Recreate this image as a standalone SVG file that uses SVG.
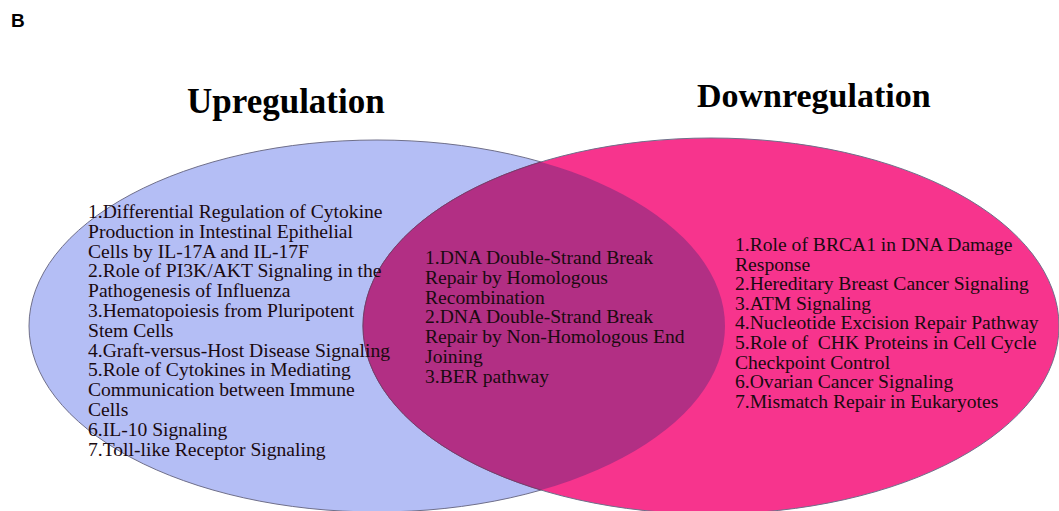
<svg xmlns="http://www.w3.org/2000/svg" width="1059" height="511" viewBox="0 0 1059 511">
<style>
.t{font-family:"Liberation Serif","Times New Roman",serif;font-size:19.6px;fill:#1a0a10}
.h{font-family:"Liberation Serif","Times New Roman",serif;font-weight:bold;fill:#000}
.set{stroke:#6f6f8a;stroke-width:1}
</style>
<defs>
<clipPath id="clipL"><ellipse cx="377" cy="326" rx="348" ry="186"/></clipPath>
</defs>
<rect width="1059" height="511" fill="#fff"/>
<text x="11" y="27" font-family="Liberation Sans,Arial,sans-serif" font-weight="bold" font-size="19" fill="#000">B</text>
<g id="upregulation">
<ellipse class="set" cx="377" cy="326" rx="348" ry="186" fill="#b4bef5"/>
<text class="h" x="187" y="113" font-size="35">Upregulation</text>
</g>
<g id="downregulation">
<ellipse class="set" cx="711" cy="326" rx="348" ry="188" fill="#f7348d"/>
<text class="h" x="697" y="107" font-size="34">Downregulation</text>
</g>
<g id="overlap">
<ellipse cx="711" cy="326" rx="348" ry="188" fill="#b22f84" stroke="#7a3a6a" stroke-width="1" clip-path="url(#clipL)"/>
</g>
<g id="up-text">
<text class="t" x="88" y="218">
<tspan x="88" dy="0">1.Differential Regulation of Cytokine</tspan>
<tspan x="88" dy="19.8">Production in Intestinal Epithelial</tspan>
<tspan x="88" dy="19.8">Cells by IL-17A and IL-17F</tspan>
<tspan x="88" dy="19.8">2.Role of PI3K/AKT Signaling in the</tspan>
<tspan x="88" dy="19.8">Pathogenesis of Influenza</tspan>
<tspan x="88" dy="19.8">3.Hematopoiesis from Pluripotent</tspan>
<tspan x="88" dy="19.8">Stem Cells</tspan>
<tspan x="88" dy="19.8">4.Graft-versus-Host Disease Signaling</tspan>
<tspan x="88" dy="19.8">5.Role of Cytokines in Mediating</tspan>
<tspan x="88" dy="19.8">Communication between Immune</tspan>
<tspan x="88" dy="19.8">Cells</tspan>
<tspan x="88" dy="19.8">6.IL-10 Signaling</tspan>
<tspan x="88" dy="19.8">7.Toll-like Receptor Signaling</tspan>
</text>
</g>
<g id="common-text">
<text class="t" x="425" y="264">
<tspan x="425" dy="0">1.DNA Double-Strand Break</tspan>
<tspan x="425" dy="19.8">Repair by Homologous</tspan>
<tspan x="425" dy="19.8">Recombination</tspan>
<tspan x="425" dy="19.8">2.DNA Double-Strand Break</tspan>
<tspan x="425" dy="19.8">Repair by Non-Homologous End</tspan>
<tspan x="425" dy="19.8">Joining</tspan>
<tspan x="425" dy="19.8">3.BER pathway</tspan>
</text>
</g>
<g id="down-text">
<text class="t" x="735" y="251">
<tspan x="735" dy="0">1.Role of BRCA1 in DNA Damage</tspan>
<tspan x="735" dy="19.6">Response</tspan>
<tspan x="735" dy="19.6">2.Hereditary Breast Cancer Signaling</tspan>
<tspan x="735" dy="19.6">3.ATM Signaling</tspan>
<tspan x="735" dy="19.6">4.Nucleotide Excision Repair Pathway</tspan>
<tspan x="735" dy="19.6">5.Role of&#160; CHK Proteins in Cell Cycle</tspan>
<tspan x="735" dy="19.6">Checkpoint Control</tspan>
<tspan x="735" dy="19.6">6.Ovarian Cancer Signaling</tspan>
<tspan x="735" dy="19.6">7.Mismatch Repair in Eukaryotes</tspan>
</text>
</g>
<g id="connectors"/>
</svg>
